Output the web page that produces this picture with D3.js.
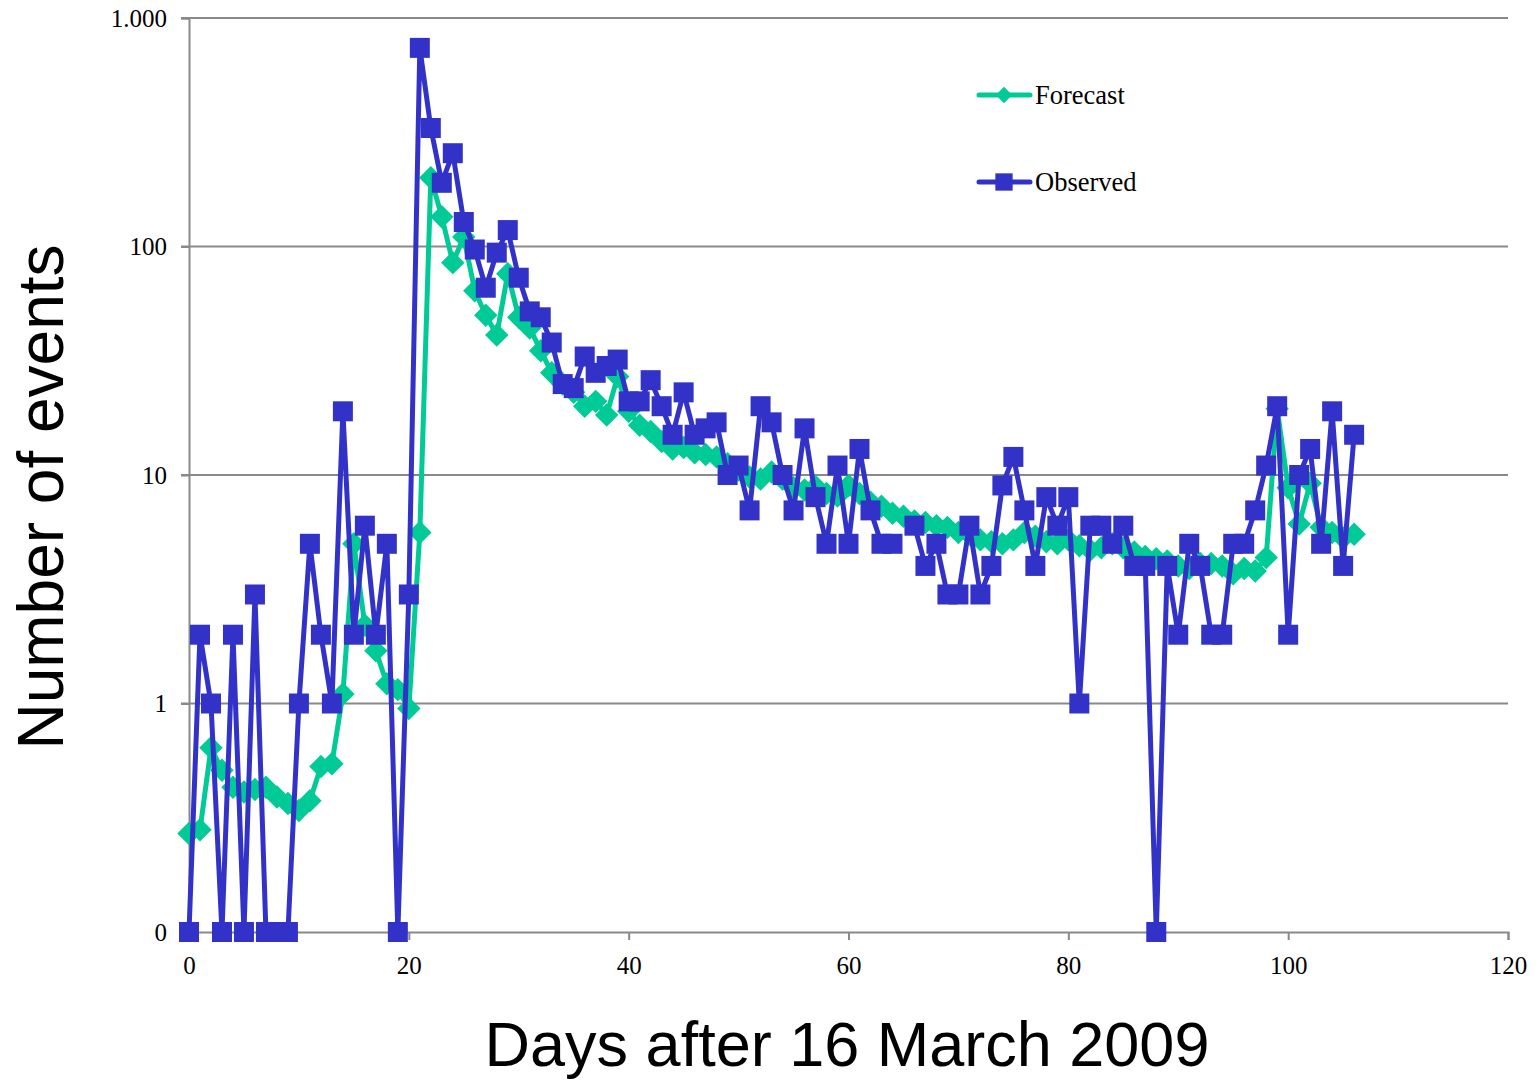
<!DOCTYPE html>
<html>
<head>
<meta charset="utf-8">
<script src="https://cdn.jsdelivr.net/npm/d3@7"></script>
<style>
  html, body { margin: 0; padding: 0; background: #fff; }
  svg { display: block; }
</style>
</head>
<body>
<svg id="chart" width="1536" height="1082"></svg>
<script>
// Daily event counts, one entry per day (day 0 = 16 March 2009).
// Days with no events are 0; null marks a day with no value.
const observed = [
  0, 2, 1, 0, 2, 0, 3, 0, 0, 0,
  1, 5, 2, 1, 19, 2, 6, 2, 5, 0,
  3, 740, 330, 190, 256, 128, 97, 66, 94, 118,
  73, 52, 49, 38, 25, 24, 33, 28, 30, 32,
  21, 21, 26, 20, 15, 23, 15, 16, 17, 10,
  11, 7, 20, 17, 10, 7, 16, 8, 5, 11,
  5, 13, 7, 5, 5, null, 6, 4, 5, 3,
  3, 6, 3, 4, 9, 12, 7, 4, 8, 6,
  8, 1, 6, 6, 5, 6, 4, 4, 0, 4,
  2, 5, 4, 2, 2, 5, 5, 7, 11, 20,
  2, 10, 13, 5, 19, 4, 15
];

const forecast = [
  0.27, 0.28, 0.64, 0.51, 0.43, 0.41, 0.42, 0.43, 0.39, 0.365,
  0.34, 0.375, 0.53, 0.545, 1.1, 5.0, 2.2, 1.7, 1.22, 1.15,
  0.95, 5.6, 200, 135, 85, 110, 64, 50, 41, 76,
  49, 44, 35, 28, 25, 23, 20, 21, 18.3, 27,
  19, 16.5, 15.5, 14, 13, 13.2, 12.5, 12.3, 12, 11.2,
  10.5, 9.8, 9.6, 10.3, 9.6, 8.8, 8.6, 8.9, 8.3, 8.1,
  9.0, 8.3, 7.6, 7.3, 6.8, 6.6, 6.3, 6.2, 6.0, 5.9,
  5.6, 5.5, 5.2, 5.1, 5.0, 5.2, 5.6, 5.4, 5.1, 5.0,
  5.2, 4.9, 4.7, 4.8, 5.0, 4.8, 4.6, 4.4, 4.3, 4.2,
  4.0, 3.9, 4.1, 4.1, 4.0, 3.7, 3.9, 3.8, 4.35, 19.5,
  8.8, 6.1, 9.2, 5.9, 5.6, 5.3, 5.5
];

const seriesNames = ["Forecast", "Observed"];
const yTickValues = [0.1, 1, 10, 100, 1000];
const yTickLabels = ["0", "1", "10", "100", "1.000"];
const xTickValues = [0, 20, 40, 60, 80, 100, 120];
const xTitle = "Days after 16 March 2009";
const yTitle = "Number of events";

const FLOOR = 0.1; // bottom of the log axis, where zero counts are placed

const svg = d3.select("#chart");
const plot = { left: 189, right: 1508, top: 18, bottom: 932 };

const x = d3.scaleLinear().domain([0, 120]).range([plot.left, plot.right]);
const y = d3.scaleLog().domain([FLOOR, 1000]).range([plot.bottom, plot.top]);

const gridColor = "#898989";
const green = "#00CA96";
const blue = "#3232C8";
const serif = "'Liberation Serif', 'Times New Roman', serif";
const sans = "'Liberation Sans', Arial, sans-serif";

// horizontal gridlines
svg.append("g")
  .selectAll("line")
  .data(yTickValues.filter(v => v > FLOOR))
  .join("line")
  .attr("x1", plot.left - 8).attr("x2", plot.right)
  .attr("y1", d => y(d)).attr("y2", d => y(d))
  .attr("stroke", gridColor).attr("stroke-width", 2);

// y axis
const yAxis = d3.axisLeft(y)
  .tickValues(yTickValues)
  .tickFormat((d, i) => yTickLabels[i])
  .tickSize(8)
  .tickPadding(14);
const gy = svg.append("g").attr("transform", `translate(${plot.left},0)`).call(yAxis);
gy.select(".domain").attr("stroke", gridColor).attr("stroke-width", 2);
gy.selectAll(".tick line").attr("stroke", gridColor).attr("stroke-width", 2);
gy.selectAll(".tick text")
  .attr("font-family", serif)
  .attr("font-size", 25).attr("fill", "#000");

// x axis
const xAxis = d3.axisBottom(x)
  .tickValues(xTickValues)
  .tickFormat(d3.format("d"))
  .tickSize(8)
  .tickPadding(16);
const gx = svg.append("g").attr("transform", `translate(0,${plot.bottom})`).call(xAxis);
gx.select(".domain").attr("stroke", gridColor).attr("stroke-width", 2);
gx.selectAll(".tick line").attr("stroke", gridColor).attr("stroke-width", 2);
gx.selectAll(".tick text")
  .attr("font-family", serif)
  .attr("font-size", 25).attr("fill", "#000");

// axis titles
svg.append("text")
  .attr("x", 847)
  .attr("y", 1066)
  .attr("text-anchor", "middle")
  .attr("font-family", sans)
  .attr("font-size", 63)
  .attr("fill", "#000")
  .text(xTitle);

svg.append("text")
  .attr("transform", "translate(63,497) rotate(-90)")
  .attr("text-anchor", "middle")
  .attr("font-family", sans)
  .attr("font-size", 64)
  .attr("fill", "#000")
  .text(yTitle);

const toPts = arr => arr.map((v, i) => ({ day: i, v: v === null ? null : Math.max(v, FLOOR) }));

const line = d3.line()
  .defined(d => d.v !== null)
  .x(d => x(d.day))
  .y(d => y(d.v));

const diamond = d3.symbol().type(d3.symbolDiamond2).size(350);
const square = d3.symbol().type(d3.symbolSquare).size(400);

// Forecast series
const fPts = toPts(forecast);
svg.append("path")
  .datum(fPts)
  .attr("d", line)
  .attr("fill", "none")
  .attr("stroke", green)
  .attr("stroke-width", 5)
  .attr("stroke-linejoin", "round");
svg.append("g")
  .selectAll("path")
  .data(fPts.filter(d => d.v !== null))
  .join("path")
  .attr("transform", d => `translate(${x(d.day)},${y(d.v)})`)
  .attr("d", diamond)
  .attr("fill", green);

// Observed series
const oPts = toPts(observed);
svg.append("path")
  .datum(oPts)
  .attr("d", line)
  .attr("fill", "none")
  .attr("stroke", blue)
  .attr("stroke-width", 5)
  .attr("stroke-linejoin", "round");
svg.append("g")
  .selectAll("path")
  .data(oPts.filter(d => d.v !== null))
  .join("path")
  .attr("transform", d => `translate(${x(d.day)},${y(d.v)})`)
  .attr("d", square)
  .attr("fill", blue);

// legend
const legend = svg.append("g");
const legendItems = [
  { name: seriesNames[0], color: green, sym: d3.symbol().type(d3.symbolDiamond2).size(170), ly: 95 },
  { name: seriesNames[1], color: blue, sym: d3.symbol().type(d3.symbolSquare).size(300), ly: 182 }
];
legendItems.forEach(it => {
  legend.append("line")
    .attr("x1", 979).attr("x2", 1030)
    .attr("y1", it.ly).attr("y2", it.ly)
    .attr("stroke", it.color).attr("stroke-width", 5)
    .attr("stroke-linecap", "round");
  legend.append("path")
    .attr("transform", `translate(1004,${it.ly})`)
    .attr("d", it.sym)
    .attr("fill", it.color);
  legend.append("text")
    .attr("x", 1035).attr("y", it.ly + 9)
    .attr("font-family", serif)
    .attr("font-size", 26.5)
    .attr("fill", "#000")
    .text(it.name);
});
</script>
</body>
</html>
